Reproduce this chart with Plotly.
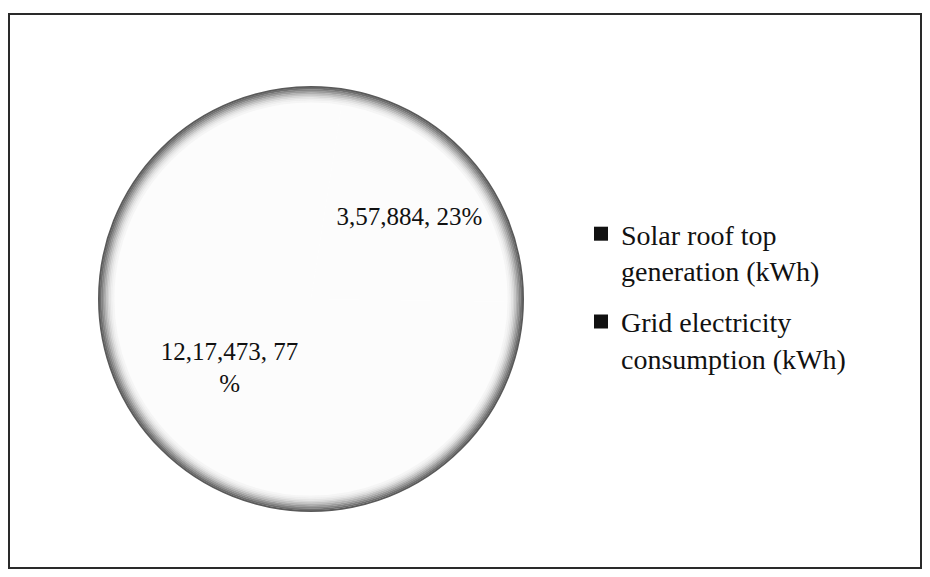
import plotly.graph_objects as go

# ---- data ----
categories = ["Solar roof top<br>generation (kWh)", "Grid electricity<br>consumption (kWh)"]
values = [357884, 1217473]
label_breaks = ["", "<br>"]  # Excel wrapped the second label before '%'


def indian(n):
    s = str(n)
    if len(s) <= 3:
        return s
    head, tail = s[:-3], s[-3:]
    parts = []
    while len(head) > 2:
        parts.insert(0, head[-2:])
        head = head[:-2]
    if head:
        parts.insert(0, head)
    return ",".join(parts + [tail])


total = sum(values)
texts = [f"{indian(v)}, {round(100 * v / total)}{b}%" for v, b in zip(values, label_breaks)]

# the browser page has an 8px body margin; size the figure so it fits the 930x577 window
OFF = 8
W, H = 930 - 2 * OFF, 577 - 2 * OFF
FONT = "Liberation Serif, Times New Roman, serif"


def px(x):
    return (x - OFF) / W


def py(y):
    return 1 - (y - OFF) / H


# pie geometry (screen pixels)
cx, cy, r = 311, 299, 213
dom_x = [px(cx - r), px(cx + r)]
dom_y = [py(cy + r), py(cy - r)]

fig = go.Figure()
fig.add_trace(go.Pie(
    labels=categories,
    values=values,
    text=texts,
    textinfo="text",
    textposition="inside",
    insidetextorientation="horizontal",
    sort=False,
    direction="clockwise",
    rotation=9,
    marker=dict(colors=["#fcfcfc", "#fcfcfc"], line=dict(width=0)),
    textfont=dict(family=FONT, size=25, color="#111111"),
    domain=dict(x=dom_x, y=dom_y),
    showlegend=False,
    hoverinfo="label+value+percent",
))

# legend entries (black squares as in the printed chart)
for i, name in enumerate(categories):
    fig.add_trace(go.Scatter(
        x=[None], y=[None], mode="markers", name=name,
        legendgroup=f"g{i}",
        marker=dict(symbol="square", size=14, color="#111111"),
    ))

# soft grey rim of the scanned pie
rim_colors = ["#5a5a5a", "#6e6e6e", "#848484", "#9a9a9a", "#b0b0b0",
              "#c4c4c4", "#d6d6d6", "#e4e4e4", "#eeeeee", "#f5f5f5"]
shapes = []
for i, c in enumerate(rim_colors):
    ri = r - 1 - i * 1.6
    shapes.append(dict(
        type="circle", xref="paper", yref="paper",
        x0=px(cx - ri), x1=px(cx + ri),
        y0=py(cy + ri), y1=py(cy - ri),
        line=dict(color=c, width=2), fillcolor="rgba(0,0,0,0)", layer="above",
    ))
# outer frame (kept inside the visible page)
shapes.append(dict(
    type="rect", xref="paper", yref="paper",
    x0=px(9), x1=px(921), y0=py(568), y1=py(14),
    line=dict(color="#2a2a2a", width=2), layer="above",
))

fig.update_layout(
    width=W, height=H,
    margin=dict(l=0, r=0, t=0, b=0),
    paper_bgcolor="white",
    plot_bgcolor="white",
    xaxis=dict(visible=False),
    yaxis=dict(visible=False),
    shapes=shapes,
    showlegend=True,
    legend=dict(
        x=px(581), xanchor="left", y=py(209), yanchor="top",
        font=dict(family=FONT, size=28, color="#111111"),
        tracegroupgap=12,
        valign="top",
        bgcolor="rgba(0,0,0,0)",
    ),
)

fig.write_html("out.html")
